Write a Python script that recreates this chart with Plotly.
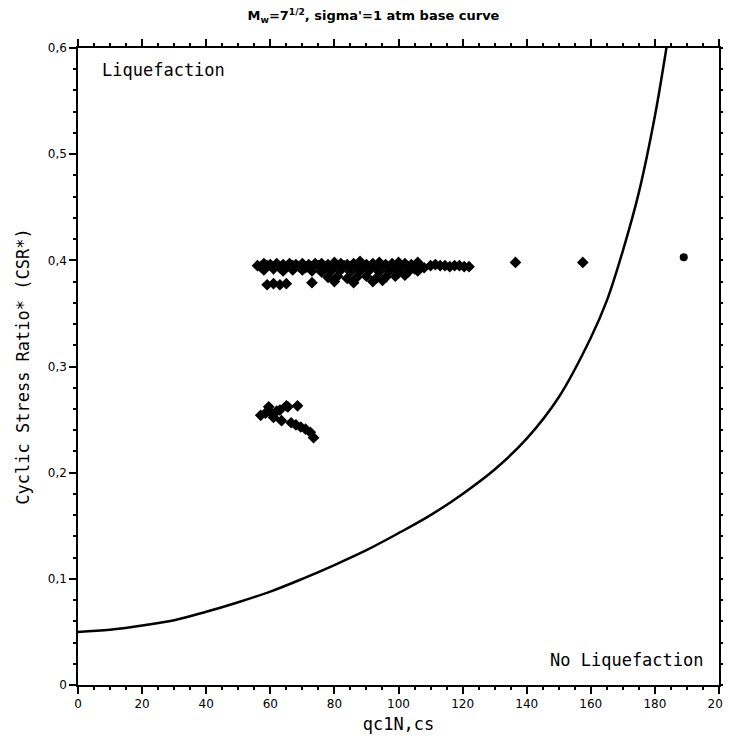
"""
    CPT liquefaction triggering chart, Mw = 7.5, sigma' = 1 atm base curve
"""

import plotly.graph_objects as go


####~~~~  data

# base curve (CRR)
curve_q = [0, 10, 20, 30, 40, 50, 60, 70, 80, 90, 100, 110, 120, 130,
           140, 150, 160, 165, 170, 175, 180, 183, 184]
curve_crr = [0.050, 0.052, 0.056, 0.061, 0.069, 0.078, 0.088, 0.100, 0.113,
             0.127, 0.143, 0.160, 0.180, 0.203, 0.232, 0.271, 0.327, 0.362,
             0.409, 0.464, 0.536, 0.589, 0.608]

# upper band of test points
band_q = [56, 58, 60, 62, 64, 66, 68, 70, 72, 74, 76, 78, 80, 82, 84, 86,
          88, 90, 92, 94, 96, 98, 100, 102, 104, 106, 108,
          57, 59, 61, 63, 65, 67, 69, 71, 73, 75, 77, 79, 81, 83, 85, 87,
          89, 91, 93, 95, 97, 99, 101, 103, 105, 107,
          58, 61, 64, 67, 70, 73, 76, 79, 82, 85, 88, 91, 94, 97, 100, 103, 106,
          78, 81, 84, 87, 90, 93, 96, 99, 102,
          59, 61, 63, 65, 73, 80, 86, 92, 95,
          110, 111.5, 113, 114.5, 116, 117.5, 119, 120.5, 122,
          136.5, 157.5]
band_csr = [0.395, 0.397, 0.396, 0.397, 0.396, 0.397, 0.396, 0.397, 0.396,
            0.397, 0.397, 0.396, 0.398, 0.397, 0.396, 0.397, 0.399, 0.396,
            0.397, 0.398, 0.396, 0.397, 0.398, 0.397, 0.396, 0.398, 0.393,
            0.394, 0.395, 0.394, 0.393, 0.394, 0.395, 0.394, 0.393, 0.394,
            0.395, 0.394, 0.393, 0.394, 0.395, 0.393, 0.394, 0.395, 0.393,
            0.394, 0.395, 0.393, 0.392, 0.394, 0.393, 0.392, 0.393,
            0.391, 0.392, 0.390, 0.391, 0.391, 0.390, 0.389, 0.390, 0.391,
            0.389, 0.390, 0.391, 0.389, 0.390, 0.388, 0.389, 0.390,
            0.384, 0.385, 0.383, 0.384, 0.385, 0.383, 0.384, 0.385, 0.386,
            0.377, 0.378, 0.377, 0.378, 0.379, 0.380, 0.379, 0.380, 0.381,
            0.395, 0.396, 0.395, 0.395, 0.394, 0.395, 0.395, 0.394, 0.394,
            0.398, 0.398]

# lower group of test points
low_q = [57, 58.5, 59.5, 61, 62, 63.5, 65, 66.5, 68, 69.5, 71, 72.5, 73.5,
         60, 63, 65.5, 68.5]
low_csr = [0.254, 0.256, 0.262, 0.252, 0.258, 0.249, 0.263, 0.247, 0.245,
           0.243, 0.241, 0.238, 0.233, 0.257, 0.259, 0.262, 0.263]

# single far point
far_q = [189]
far_csr = [0.403]

x_ticks = [0, 20, 40, 60, 80, 100, 120, 140, 160, 180, 200]
y_ticks = [0, 0.1, 0.2, 0.3, 0.4, 0.5, 0.6]

FONT = "DejaVu Sans"
WIDE = "DejaVu Sans Mono"   # reference labels are drawn wide and spaced out

####~~~~

fig = go.Figure()

fig.add_trace(go.Scatter(
    x=curve_q, y=curve_crr, mode="lines",
    line=dict(color="black", width=2.5, shape="spline"),
    showlegend=False, hoverinfo="skip"
))

fig.add_trace(go.Scatter(
    x=band_q + low_q, y=band_csr + low_csr, mode="markers",
    marker=dict(symbol="diamond", size=9, color="black"),
    showlegend=False
))

fig.add_trace(go.Scatter(
    x=far_q, y=far_csr, mode="markers",
    marker=dict(symbol="circle", size=8, color="black"),
    showlegend=False
))

axis_common = dict(
    showline=True, linecolor="black", linewidth=1.5, mirror="allticks",
    ticks="outside", ticklen=7, tickwidth=1.5, tickcolor="black",
    showgrid=False, zeroline=False,
    tickfont=dict(family=FONT, size=12, color="black"),
)

fig.update_xaxes(
    range=[0, 200], tickvals=x_ticks,
    title=dict(text="qc1N,cs", font=dict(family=WIDE, size=17, color="black"),
               standoff=8),
    minor=dict(dtick=5, ticklen=3, tickcolor="black", ticks="outside"),
    **axis_common
)
fig.update_yaxes(
    range=[0, 0.6], tickvals=y_ticks,
    title=dict(text="Cyclic Stress Ratio* (CSR*)",
               font=dict(family=WIDE, size=17, color="black"), standoff=14),
    minor=dict(dtick=0.02, ticklen=3, tickcolor="black", ticks="outside"),
    **axis_common
)

fig.add_annotation(
    x=0.035, y=0.965, xref="paper", yref="paper", xanchor="left", yanchor="middle",
    text="Liquefaction", showarrow=False,
    font=dict(family=WIDE, size=17, color="black")
)
fig.add_annotation(
    x=0.98, y=0.04, xref="paper", yref="paper", xanchor="right", yanchor="middle",
    text="No Liquefaction", showarrow=False,
    font=dict(family=WIDE, size=17, color="black")
)

fig.update_layout(
    width=731, height=744,
    margin=dict(l=70, r=9, t=40, b=67),
    paper_bgcolor="white", plot_bgcolor="white",
    separators=",.",
    title=dict(
        text="<b>M<sub>w</sub>=7<sup>1/2</sup>, sigma'=1 atm base curve</b>",
        x=0.5, xanchor="center", y=0.99, yanchor="middle",
        font=dict(family=FONT, size=13, color="black")
    ),
)

fig.write_html("out.html")

#########~~~~~~~~END>  plot.py
